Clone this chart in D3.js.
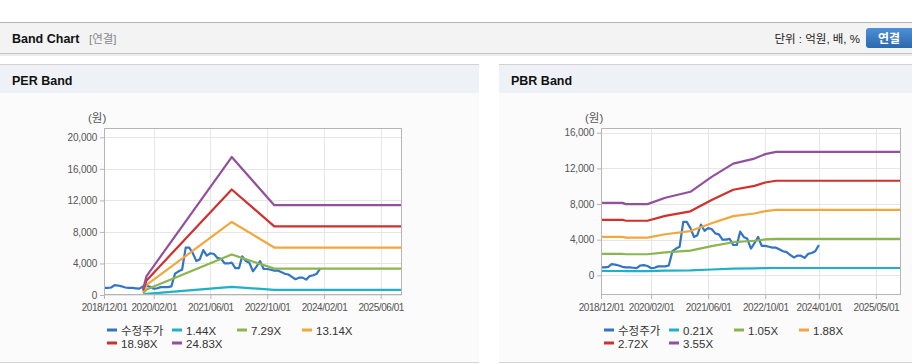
<!DOCTYPE html>
<html>
<head>
<meta charset="utf-8">
<script src="https://cdn.jsdelivr.net/npm/d3@7"></script>
<style>
  body { margin: 0; background: #fff; font-family: "Liberation Sans", "Noto Sans CJK KR", sans-serif; }
</style>
</head>
<body>
<div id="chart"></div>
<script>
// monthly adjusted price (수정주가), 2018/12 .. 2024/01
const priceStart = "2018/12/01";
const priceEnd = "2024/01/01";
const price = [900,
  900, 950, 1250, 1200, 1100, 950, 900, 900, 850, 800, 1100, 1150,
  1050, 800, 850, 1000, 1000, 1000, 1100, 2700, 3000, 3200, 6000, 6000,
  5300, 4300, 4500, 5700, 5000, 5300, 5200, 4700, 4600, 4000, 4000, 4100,
  3400, 3400, 4900, 4300, 4100, 3000, 3600, 4300, 3300, 3300, 3200, 3100,
  3100, 2900, 2700, 2600, 2300, 2000, 2200, 2200, 1950, 2400, 2500, 2700,
  3400];

// PER band
const perDates = ["2019/11/01", "2019/12/01", "2021/12/01", "2022/12/01", "2025/12/01"];
const perLabels = ["1.44X", "7.29X", "13.14X", "18.98X", "24.83X"];
const per144 = [40, 140, 1020, 660, 660];
const per729 = [220, 710, 5140, 3340, 3340];
const per1314 = [400, 1280, 9260, 6020, 6020];
const per1898 = [570, 1850, 13380, 8700, 8700];
const per2483 = [750, 2400, 17500, 11390, 11390];
const perTicksX = ["2018/12/01", "2020/02/01", "2021/06/01", "2022/10/01", "2024/02/01", "2025/06/01"];
const perTicksY = [0, 4000, 8000, 12000, 16000, 20000];

// PBR band
const pbrDates = ["2018/12/01", "2019/06/01", "2019/07/01", "2020/01/01", "2020/06/01", "2021/01/01",
  "2021/07/01", "2022/01/01", "2022/07/01", "2022/10/01", "2023/01/01", "2025/12/01"];
const pbrLabels = ["0.21X", "1.05X", "1.88X", "2.72X", "3.55X"];
const pbr021 = [481, 481, 473, 473, 515, 554, 653, 741, 775, 804, 819, 819];
const pbr105 = [2405, 2405, 2363, 2363, 2573, 2772, 3266, 3707, 3875, 4022, 4095, 4095];
const pbr188 = [4305, 4305, 4230, 4230, 4606, 4963, 5847, 6636, 6937, 7200, 7332, 7332];
const pbr272 = [6229, 6229, 6120, 6120, 6664, 7181, 8459, 9602, 10037, 10418, 10608, 10608];
const pbr355 = [8130, 8130, 7988, 7988, 8698, 9372, 11041, 12532, 13100, 13597, 13845, 13845];
const pbrTicksX = ["2018/12/01", "2020/02/01", "2021/06/01", "2022/10/01", "2024/01/01", "2025/05/01"];
const pbrTicksY = [0, 4000, 8000, 12000, 16000];

const colors = ["#3274c6", "#1fb1c6", "#8bb54e", "#f2a73b", "#cf312c", "#93509b"];
const parse = d3.timeParse("%Y/%m/%d");
const xDomain = [parse("2018/12/01"), parse("2025/12/01")];

const width = 912, height = 364;
const svg = d3.select("#chart").append("svg")
    .attr("width", width)
    .attr("height", height)
    .style("display", "block");

// top header bar
svg.append("rect").attr("x", 0).attr("y", 23).attr("width", width).attr("height", 30).attr("fill", "#f3f3f3");
svg.append("line").attr("x1", 0).attr("x2", width).attr("y1", 22.5).attr("y2", 22.5).attr("stroke", "#b4b4b4");
svg.append("rect").attr("x", 0).attr("y", 53).attr("width", width).attr("height", 1).attr("fill", "#c4c4c4");
svg.append("rect").attr("x", 0).attr("y", 54).attr("width", width).attr("height", 2).attr("fill", "#ececec");
svg.append("text").attr("x", 12).attr("y", 43).attr("font-size", "12.5px").attr("font-weight", "bold")
    .attr("fill", "#111").text("Band Chart");
svg.append("text").attr("x", 89).attr("y", 43).attr("font-size", "11.5px").attr("fill", "#888").text("[연결]");
svg.append("text").attr("x", 860).attr("y", 43).attr("font-size", "11.5px").attr("fill", "#222")
    .attr("text-anchor", "end").text("단위 : 억원, 배, %");

const grad = svg.append("defs").append("linearGradient").attr("id", "btn").attr("x1", 0).attr("x2", 0).attr("y1", 0).attr("y2", 1);
grad.append("stop").attr("offset", "0%").attr("stop-color", "#4d8fd6");
grad.append("stop").attr("offset", "100%").attr("stop-color", "#2c68ae");
svg.append("rect").attr("x", 866).attr("y", 28).attr("width", 50).attr("height", 20).attr("rx", 3)
    .attr("fill", "url(#btn)");
svg.append("text").attr("x", 889).attr("y", 42.5).attr("font-size", "12px").attr("font-weight", "bold")
    .attr("fill", "#fff").attr("text-anchor", "middle").text("연결");

function drawPanel(cfg) {
  const g = svg.append("g");
  // panel background
  g.append("rect").attr("x", cfg.px).attr("y", 64).attr("width", cfg.pw).attr("height", 299).attr("fill", "#fbfbfb");
  g.append("rect").attr("x", cfg.px).attr("y", 65).attr("width", cfg.pw).attr("height", 28).attr("fill", "#eef2f7");
  g.append("line").attr("x1", cfg.px).attr("x2", cfg.px + cfg.pw).attr("y1", 64.5).attr("y2", 64.5).attr("stroke", "#d2d2d2");
  g.append("line").attr("x1", cfg.px).attr("x2", cfg.px + cfg.pw).attr("y1", 362.5).attr("y2", 362.5).attr("stroke", "#d6d6d6");
  g.append("text").attr("x", cfg.px + 12).attr("y", 85).attr("font-size", "12.5px").attr("font-weight", "bold")
      .attr("fill", "#111").text(cfg.title);

  const x = d3.scaleTime().domain(xDomain).range([cfg.left, cfg.right]);
  const y = d3.scaleLinear().domain(cfg.yDomain).range([295, 128]);

  // plot area
  g.append("rect").attr("x", cfg.left).attr("y", 128).attr("width", cfg.right - cfg.left).attr("height", 167).attr("fill", "#fff");

  // grid
  g.append("g").attr("stroke", "#e6e6e6")
    .call(gg => gg.selectAll("line.v").data(cfg.ticksX.map(parse)).join("line")
      .attr("x1", d => Math.round(x(d)) + 0.5).attr("x2", d => Math.round(x(d)) + 0.5)
      .attr("y1", 128).attr("y2", 295))
    .call(gg => gg.selectAll("line.h").data(cfg.ticksY).join("line")
      .attr("y1", d => Math.round(y(d)) + 0.5).attr("y2", d => Math.round(y(d)) + 0.5)
      .attr("x1", cfg.left).attr("x2", cfg.right));

  // axes
  g.append("g")
      .attr("transform", `translate(${cfg.left},0)`)
      .call(d3.axisLeft(y).tickValues(cfg.ticksY).tickFormat(d3.format(",")).tickSize(4).tickPadding(3))
      .call(a => a.select(".domain").remove())
      .call(a => a.selectAll(".tick line").attr("stroke", "#b5b5b5"))
      .call(a => a.selectAll(".tick text").attr("fill", "#555").style("font-size", "10px")
        .style("letter-spacing", "-0.2px").style("font-family", "Liberation Sans, sans-serif"));

  g.append("g")
      .attr("transform", `translate(0,295)`)
      .call(d3.axisBottom(x).tickValues(cfg.ticksX.map(parse)).tickFormat(d3.timeFormat("%Y/%m/%d")).tickSize(4).tickPadding(5))
      .call(a => a.select(".domain").remove())
      .call(a => a.selectAll(".tick line").attr("stroke", "#b5b5b5"))
      .call(a => a.selectAll(".tick text").attr("fill", "#555").style("font-size", "10px")
        .style("letter-spacing", "-0.45px").style("font-family", "Liberation Sans, sans-serif"));

  g.append("text").attr("x", cfg.left - 16).attr("y", 122).attr("font-size", "11.5px").attr("fill", "#555")
      .text("(원)");

  // clip
  const clipId = "clip" + cfg.px;
  svg.append("clipPath").attr("id", clipId).append("rect")
      .attr("x", cfg.left).attr("y", 128).attr("width", cfg.right - cfg.left).attr("height", 167);

  const line = d3.line().x(d => x(d[0])).y(d => y(d[1]));
  const bandDates = cfg.bandDates.map(parse);
  const priceDates = d3.timeMonth.range(parse(priceStart), d3.timeMonth.offset(parse(priceEnd), 1));
  // price first, bands drawn on top of it
  const series = [{ color: colors[0], pts: price.map((v, j) => [priceDates[j], v]) }];
  cfg.bands.forEach((vals, i) => series.push({
    color: colors[i + 1],
    pts: vals.map((v, j) => [bandDates[j], v])
  }));

  g.append("g").attr("clip-path", `url(#${clipId})`).attr("fill", "none")
    .selectAll("path").data(series).join("path")
      .attr("stroke", d => d.color)
      .attr("stroke-width", 2.2)
      .attr("stroke-linejoin", "round")
      .attr("d", d => line(d.pts));

  // plot border
  g.append("rect").attr("x", cfg.left + 0.5).attr("y", 128.5).attr("width", cfg.right - cfg.left - 1).attr("height", 166)
      .attr("fill", "none").attr("stroke", "#b5b5b5");

  // legend
  const names = ["수정주가"].concat(cfg.labels);
  const leg = g.append("g").selectAll("g").data(names).join("g")
      .attr("transform", (d, i) => `translate(${cfg.left + 3 + (i % 4) * 65},${i < 4 ? 330 : 343})`);
  leg.append("rect").attr("x", 0).attr("y", -1.5).attr("width", 10).attr("height", 3).attr("fill", (d, i) => colors[i]);
  leg.append("text").attr("x", 14).attr("y", 4.5).attr("font-size", "11.5px").attr("fill", "#333").text(d => d);
}

drawPanel({
  title: "PER Band", px: 0, pw: 479, left: 104, right: 402,
  yDomain: [0, 21180], ticksY: perTicksY, ticksX: perTicksX,
  bandDates: perDates, bands: [per144, per729, per1314, per1898, per2483], labels: perLabels
});

drawPanel({
  title: "PBR Band", px: 499, pw: 413, left: 601, right: 901,
  yDomain: [-2210, 16530], ticksY: pbrTicksY, ticksX: pbrTicksX,
  bandDates: pbrDates, bands: [pbr021, pbr105, pbr188, pbr272, pbr355], labels: pbrLabels
});
</script>
</body>
</html>
